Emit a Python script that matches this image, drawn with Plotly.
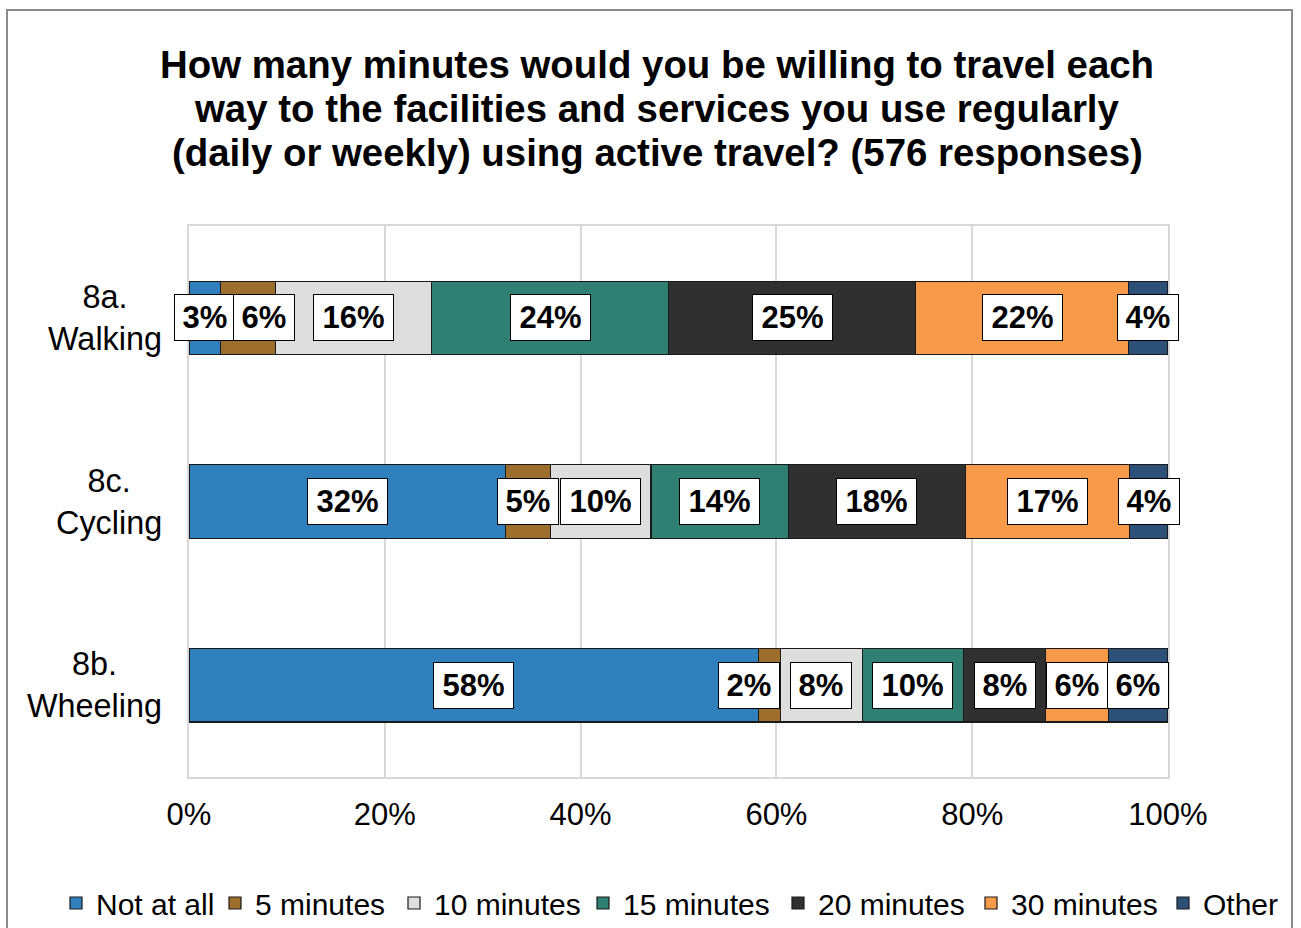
import plotly.graph_objects as go

# ---- data -------------------------------------------------------------
categories = ["8a. Walking", "8c. Cycling", "8b. Wheeling"]
category_ticks = ["8a.<br>Walking", "8c.<br>Cycling", "8b.<br>Wheeling"]

series_names = ["Not at all", "5 minutes", "10 minutes", "15 minutes",
                "20 minutes", "30 minutes", "Other"]

not_at_all = [3.2, 32.3, 58.2]
five_min = [5.6, 4.6, 2.2]
ten_min = [16.0, 10.3, 8.4]
fifteen_min = [24.2, 14.0, 10.3]
twenty_min = [25.2, 18.1, 8.4]
thirty_min = [21.8, 16.8, 6.4]
other = [4.0, 3.9, 6.1]

x_ticks = [0, 20, 40, 60, 80, 100]

title_lines = [
    "How many minutes would you be willing to travel each",
    "way to the facilities and services you use regularly",
    "(daily or weekly) using active travel? (576 responses)",
]

# ---- styling ----------------------------------------------------------
colors = ["#3080BD", "#9E6E2C", "#DEDEDE", "#2F8073",
          "#303030", "#F79B4A", "#2C5078"]
FONT = "Liberation Sans, Arial, sans-serif"

W, H = 1301, 928
L, R, T, B = 189, 133, 226, 151
PW, PH = W - L - R, H - T - B


def px_x(px):
    return (px - L) / PW


def px_y(py):
    return (H - B - py) / PH


# nudges (in px) for labels that would otherwise collide
label_nudge = {("8a. Walking", 1): 16, ("8b. Wheeling", 1): -21}

# legend entry symbol centres along the bottom row (px)
legend_slots = [76, 235, 414, 603, 798, 991, 1183]
LEGEND_ROW = 903

all_series = [not_at_all, five_min, ten_min, fifteen_min,
              twenty_min, thirty_min, other]

fig = go.Figure()
legend_layouts = {}
for i, (name, vals, col) in enumerate(zip(series_names, all_series, colors)):
    key = "legend" if i == 0 else f"legend{i + 1}"
    fig.add_trace(go.Bar(
        name=name, y=categories, x=vals, orientation="h",
        marker=dict(color=col, line=dict(color="#1A1A1A", width=1.2)),
        hoverinfo="skip", legend=key, showlegend=True,
    ))
    legend_layouts[key] = dict(
        orientation="h", x=px_x(legend_slots[i] - 20), y=px_y(LEGEND_ROW),
        xanchor="left", yanchor="middle", bgcolor="rgba(0,0,0,0)",
        borderwidth=0,
        font=dict(family=FONT, size=30, color="#000000"),
        itemclick=False, itemdoubleclick=False,
    )

annotations = []
# data labels in white boxes, centred on each segment
for ci, cat in enumerate(categories):
    start = 0.0
    for si, vals in enumerate(all_series):
        v = vals[ci]
        label = f"{v:.0f}%"
        annotations.append(dict(
            x=start + v / 2, y=cat, xref="x", yref="y",
            text=f"<b>{label}</b>", showarrow=False,
            font=dict(family=FONT, size=31, color="#000000"),
            bgcolor="#FFFFFF", bordercolor="#000000", borderwidth=1,
            borderpad=5, width=19 * len(label) + 12,
            xshift=label_nudge.get((cat, si), 0),
        ))
        start += v

# category labels, centred text blocks to the left of the axis
for cat, tick in zip(categories, category_ticks):
    annotations.append(dict(
        x=0, y=cat, xref="paper", yref="y", xanchor="right",
        xshift=-25, text=tick, align="center", showarrow=False,
        font=dict(family=FONT, size=32.4, color="#000000"),
    ))

# title lines
for line, cy in zip(title_lines, [65, 108, 152]):
    annotations.append(dict(
        x=px_x(657), y=px_y(cy), xref="paper", yref="paper",
        xanchor="center", yanchor="middle", text=f"<b>{line}</b>",
        showarrow=False, font=dict(family=FONT, size=38.4, color="#000000"),
    ))

fig.update_layout(
    width=W, height=H,
    margin=dict(l=L, r=R, t=T, b=B, autoexpand=False),
    barmode="stack", bargap=0.6,
    paper_bgcolor="#FFFFFF", plot_bgcolor="#FFFFFF",
    font=dict(family=FONT, color="#000000"),
    showlegend=True,
    xaxis=dict(
        range=[0, 100], tickmode="array", tickvals=x_ticks,
        ticktext=[f"{t}%" for t in x_ticks],
        showgrid=True, gridcolor="#D9D9D9", gridwidth=2,
        showline=True, linecolor="#D9D9D9", linewidth=2, mirror=True,
        zeroline=False, ticks="", ticklabelstandoff=9,
        tickfont=dict(family=FONT, size=31, color="#000000"),
        fixedrange=True,
    ),
    yaxis=dict(
        categoryorder="array", categoryarray=categories,
        autorange="reversed", showticklabels=False,
        showline=True, linecolor="#D9D9D9", linewidth=2, mirror=True,
        showgrid=False, zeroline=False, ticks="", fixedrange=True,
    ),
    annotations=annotations,
    shapes=[dict(
        type="rect", xref="paper", yref="paper",
        x0=px_x(7), x1=px_x(1292), y0=px_y(10), y1=px_y(940),
        line=dict(color="#8C8C8C", width=2), fillcolor="rgba(0,0,0,0)",
        layer="below",
    )],
    **legend_layouts,
)

fig.write_html("out.html")
